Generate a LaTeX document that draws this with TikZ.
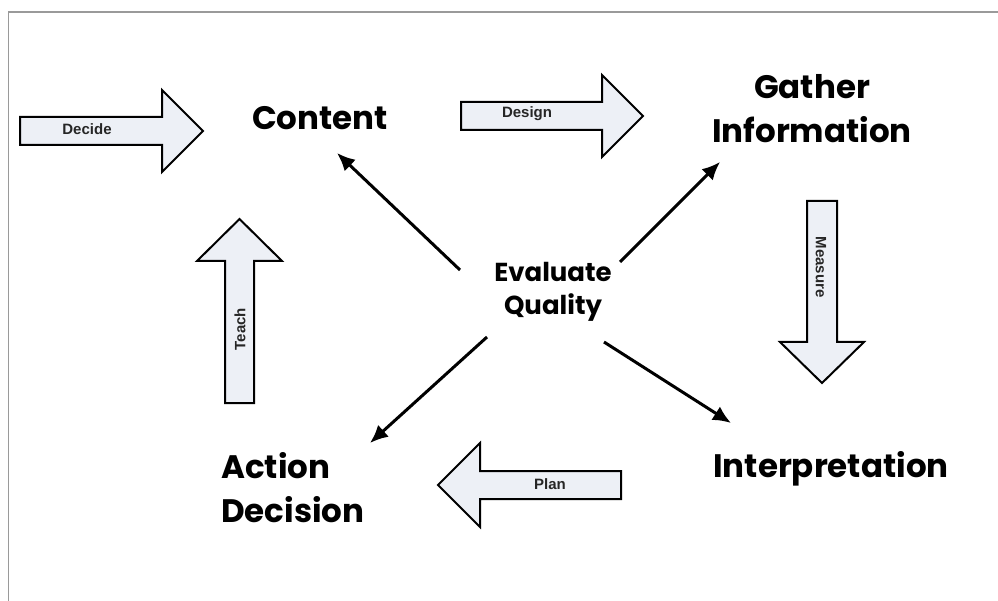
\documentclass[tikz,border=0pt]{standalone}
\usepackage{fontspec}
\setmainfont{Liberation Sans}
\newfontfamily\geofont{Poppins}
\usetikzlibrary{arrows.meta}
\definecolor{arrowfill}{HTML}{EDF0F6}
\definecolor{framegray}{HTML}{9A9A9A}

\begin{document}
\begin{tikzpicture}[x=1pt,y=-1pt,
    title/.style={font=\geofont\bfseries\fontsize{32.5}{44}\selectfont,inner sep=0pt},
    blockarrow/.style={draw=black,line width=2pt,fill=arrowfill,line join=miter},
    tag/.style={font=\bfseries\fontsize{15}{17}\selectfont,text=black!85,inner sep=0pt},
    spoke/.style={line width=3pt,-{Latex[length=18pt,width=16pt]}}]
  \useasboundingbox (0,0) rectangle (998,601);
  \draw[framegray,line width=1.5pt] (8.5,601) -- (8.5,12) -- (998,12);

  % stages
  \node[title,anchor=base] (content) at (320,130) {Content};
  \node[title,align=center] (gather) at (812,109) {Gather\\Information};
  \node[title,anchor=base] (interp) at (831,477) {Interpretation};
  \node[title,align=left,anchor=west] (action) at (221,488) {Action\\Decision};
  \node[title,align=center,font=\geofont\bfseries\fontsize{26}{33}\selectfont] (eval) at (553,292) {Evaluate\\Quality};

  % block arrows
  \draw[blockarrow] (20,117) -- (162,117) -- (162,90) -- (203,131) -- (162,172) -- (162,145) -- (20,145) -- cycle;
  \node[tag] (decide) at (87,129) {Decide};
  \draw[blockarrow] (461,102) -- (602,102) -- (602,75) -- (643,116) -- (602,157) -- (602,130) -- (461,130) -- cycle;
  \node[tag] (design) at (527,114) {Design};
  \draw[blockarrow] (807,201) -- (837,201) -- (837,342) -- (864,342) -- (822,383) -- (780,342) -- (807,342) -- cycle;
  \node[tag,rotate=-90] (measure) at (821,267) {Measure};
  \draw[blockarrow] (621,471) -- (480,471) -- (480,443) -- (438,485) -- (480,527) -- (480,499) -- (621,499) -- cycle;
  \node[tag] (plan) at (550,484) {Plan};
  \draw[blockarrow] (225,403) -- (225,261) -- (197,261) -- (239.5,219) -- (282,261) -- (254,261) -- (254,403) -- cycle;
  \node[tag,rotate=90] (teach) at (240,329) {Teach};

  % spokes
  \coordinate (s1) at (460,270);
  \coordinate (e1) at (337,153);
  \coordinate (s2) at (620,262);
  \coordinate (e2) at (720,162);
  \coordinate (s3) at (487,337);
  \coordinate (e3) at (370,443);
  \coordinate (s4) at (604,342);
  \coordinate (e4) at (731,423);
  \draw[spoke] (s1) -- (e1);
  \draw[spoke] (s2) -- (e2);
  \draw[spoke] (s3) -- (e3);
  \draw[spoke] (s4) -- (e4);
\end{tikzpicture}
\end{document}
